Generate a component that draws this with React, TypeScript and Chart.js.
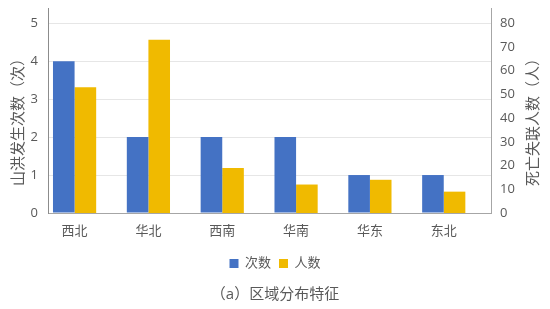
import { useEffect, useRef } from 'react';
import { Chart, registerables } from 'chart.js';

Chart.register(...registerables);

const categories = ['西北', '华北', '西南', '华南', '华东', '东北'];
const eventCounts = [4, 2, 2, 2, 1, 1];
const casualties = [53, 73, 19, 12, 14, 9];
const leftTicks = [0, 1, 2, 3, 4, 5];
const rightTicks = [0, 10, 20, 30, 40, 50, 60, 70, 80];
const seriesNames = ['次数', '人数'];
const leftTitle = '山洪发生次数（次）';
const rightTitle = '死亡失联人数（人）';
const chartTitle = '（a）区域分布特征';

const TEXT = '#595959';
const FONT = '"Open Sans", "Noto Sans CJK SC", sans-serif';

const axisTitles = {
  id: 'axisTitles',
  afterDraw(chart: any) {
    const { ctx, chartArea } = chart;
    const cy = (chartArea.top + chartArea.bottom) / 2 + 8;
    ctx.save();
    ctx.font = '15px "Noto Sans CJK SC", sans-serif';
    ctx.fillStyle = TEXT;
    ctx.textAlign = 'center';
    ctx.textBaseline = 'middle';
    ctx.save();
    ctx.translate(chart.scales.y.left + 17, cy);
    ctx.rotate(-Math.PI / 2);
    ctx.fillText(leftTitle, 0, 0);
    ctx.restore();
    ctx.save();
    ctx.translate(chart.scales.y1.right - 18, cy);
    ctx.rotate(-Math.PI / 2);
    ctx.fillText(rightTitle, 0, 0);
    ctx.restore();
    ctx.restore();
  },
};

export default function App() {
  const ref = useRef<HTMLCanvasElement>(null);
  useEffect(() => {
    document.body.style.margin = '0';
    const canvas = ref.current!;
    const chart = new Chart(canvas, {
      type: 'bar',
      data: {
        datasets: [
          {
            label: seriesNames[0],
            data: eventCounts.map((v, i) => ({ x: i, y: v })),
            backgroundColor: '#4472C4',
            yAxisID: 'y',
          },
          {
            label: seriesNames[1],
            data: casualties.map((v, i) => ({ x: i, y: v })),
            backgroundColor: '#F0BA00',
            yAxisID: 'y1',
          },
        ],
      },
      options: {
        animation: false,
        responsive: false,
        maintainAspectRatio: false,
        datasets: { bar: { categoryPercentage: 0.585, barPercentage: 1 } },
        layout: { padding: { top: 8, left: 0, right: 0, bottom: 0 } },
        scales: {
          x: {
            type: 'linear',
            min: -0.36,
            max: 5.64,
            offset: false,
            afterBuildTicks: (s: any) => {
              s.ticks = categories.map((_, i) => ({ value: i }));
            },
            afterFit: (s: any) => {
              s.height = 36;
              s.paddingLeft = 0;
              s.paddingRight = 0;
            },
            grid: { display: false },
            border: { display: true, color: '#a6a6a6', width: 1 },
            ticks: {
              autoSkip: false,
              maxRotation: 0,
              padding: 2,
              color: TEXT,
              font: { family: FONT, size: 13 },
              callback: (v: any) => categories[v] ?? '',
            },
          },
          y: {
            position: 'left',
            min: 0,
            max: 5.4,
            afterBuildTicks: (s: any) => {
              s.ticks = leftTicks.map((v) => ({ value: v }));
            },
            afterFit: (s: any) => {
              s.width = 48;
              s.paddingTop = 0;
              s.paddingBottom = 0;
            },
            grid: {
              drawTicks: false,
              color: (c: any) => (c.tick && c.tick.value === 0 ? 'rgba(0,0,0,0)' : '#e6e6e6'),
            },
            border: { display: true, color: '#8c8c8c', width: 1 },
            ticks: { padding: 10, color: TEXT, font: { family: FONT, size: 13 } },
          },
          y1: {
            position: 'right',
            min: 0,
            max: 86.4,
            afterBuildTicks: (s: any) => {
              s.ticks = rightTicks.map((v) => ({ value: v }));
            },
            afterFit: (s: any) => {
              s.width = 59;
              s.paddingTop = 0;
              s.paddingBottom = 0;
            },
            grid: { display: false, drawTicks: false },
            border: { display: true, color: '#a6a6a6', width: 1 },
            ticks: { padding: 9, color: TEXT, font: { family: FONT, size: 13 } },
          },
        },
        plugins: {
          legend: {
            position: 'bottom',
            labels: {
              boxWidth: 9,
              boxHeight: 9,
              padding: 8,
              color: TEXT,
              font: { family: FONT, size: 13 },
            },
          },
          title: {
            display: true,
            position: 'bottom',
            text: chartTitle,
            color: TEXT,
            font: { family: FONT, size: 15, weight: 'normal' },
            padding: { top: 6, bottom: 5 },
          },
          tooltip: { enabled: false },
        },
      },
      plugins: [axisTitles],
    } as any);
    return () => chart.destroy();
  }, []);
  return <canvas ref={ref} width={550} height={309} style={{ display: 'block' }} />;
}
